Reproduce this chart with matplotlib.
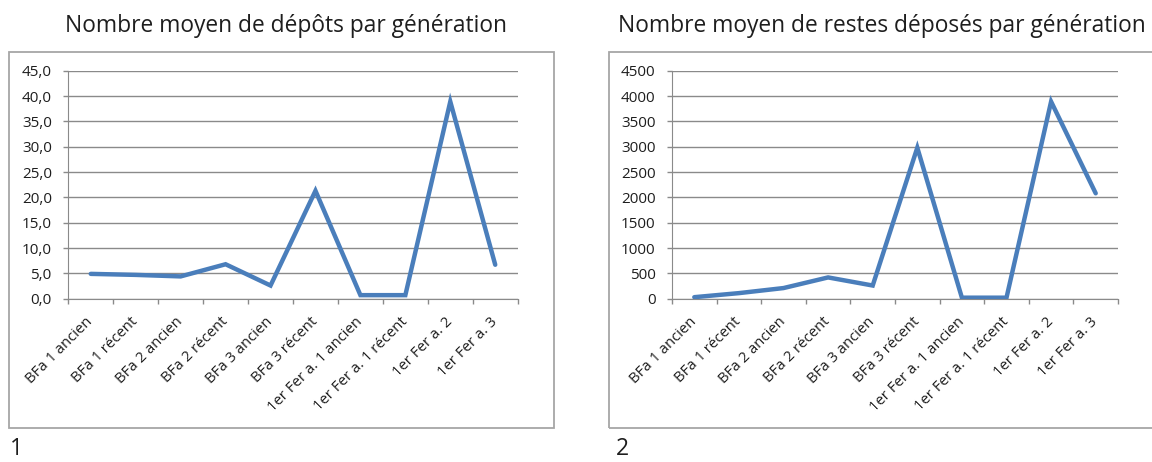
import matplotlib
matplotlib.use("Agg")
import matplotlib.pyplot as plt
from matplotlib.patches import Rectangle
from matplotlib.ticker import FuncFormatter, MultipleLocator

categories = ["BFa 1 ancien", "BFa 1 récent", "BFa 2 ancien", "BFa 2 récent",
              "BFa 3 ancien", "BFa 3 récent", "1er Fer a. 1 ancien",
              "1er Fer a. 1 récent", "1er Fer a. 2", "1er Fer a. 3"]
depots = [4.9, 4.7, 4.4, 6.8, 2.6, 21.3, 0.7, 0.7, 38.9, 6.7]
restes = [30, 110, 210, 420, 260, 2980, 20, 20, 3890, 2080]

title1 = "Nombre moyen de dépôts par génération"
title2 = "Nombre moyen de restes déposés par génération"

plt.rcParams['font.family'] = ['Open Sans', 'DejaVu Sans']

W, H = 1152, 462
fig = plt.figure(figsize=(W / 100, H / 100), dpi=100)

LINE = "#4a7ebb"
GRID = "#8a8a8a"
FRAME = "#a6a6a6"
TXT = "#1e1e1e"
PX = 0.72  # points per pixel at dpi 100

def fx(px):
    return px / W

def fy(py):
    return 1 - py / H

Y_TOP, Y_BOT = 70.7, 298.7

def make(ax_left, ax_right, vals, ymax, step, fmt, title, title_cx, frame, label, label_x):
    ax = fig.add_axes([fx(ax_left), fy(Y_BOT), fx(ax_right - ax_left), fy(Y_TOP) - fy(Y_BOT)])
    x = list(range(len(categories)))
    ax.plot(x, vals, color=LINE, lw=3.2, solid_capstyle='round', solid_joinstyle='miter', zorder=3)
    ax.set_xlim(-0.5, len(categories) - 0.5)
    ax.set_ylim(0, ymax)
    ax.yaxis.set_major_locator(MultipleLocator(step))
    ax.yaxis.set_major_formatter(FuncFormatter(fmt))
    ax.grid(axis='y', color=GRID, lw=1.0, zorder=0)
    for s in ['top', 'right']:
        ax.spines[s].set_visible(False)
    ax.spines['left'].set_color(GRID)
    ax.spines['bottom'].set_color(GRID)
    ax.set_xticks([i - 0.5 for i in range(len(categories) + 1)], minor=False)
    ax.set_xticklabels([])
    ax.tick_params(axis='x', which='major', length=5 * PX, width=1.0, color=GRID, direction='out')
    ax.set_xticks(x, minor=True)
    ax.set_xticklabels(categories, minor=True, rotation=45, ha='right', va='center',
                       rotation_mode='anchor', fontsize=10.7, color=TXT)
    ax.tick_params(axis='x', which='minor', length=0, pad=21 * PX)
    ax.tick_params(axis='y', length=5 * PX, width=1.0, color=GRID, labelsize=11,
                   labelcolor=TXT, pad=11.5 * PX)
    fig.text(fx(title_cx), fy(32), title, ha='center', va='baseline', fontsize=16.4, color=TXT)
    fx0, fy0, fx1, fy1 = frame
    fig.patches.append(Rectangle((fx(fx0), fy(fy1)), fx(fx1 - fx0), fy(fy0) - fy(fy1),
                                 transform=fig.transFigure, fill=False, edgecolor=FRAME, lw=1.3))
    fig.text(fx(label_x), fy(461), label, ha='left', va='bottom', fontsize=16.5, color=TXT)
    return ax

make(68.3, 517.7, depots, 45, 5, lambda v, p: f"{v:.1f}".replace('.', ','), title1, 286,
     (9.3, 52, 554, 428), "1", 10)
make(672, 1118, restes, 4500, 500, lambda v, p: f"{int(v)}", title2, 882,
     (608.7, 52, 1170, 428), "2", 616)

fig.savefig("out.png", dpi=100, facecolor='white')
